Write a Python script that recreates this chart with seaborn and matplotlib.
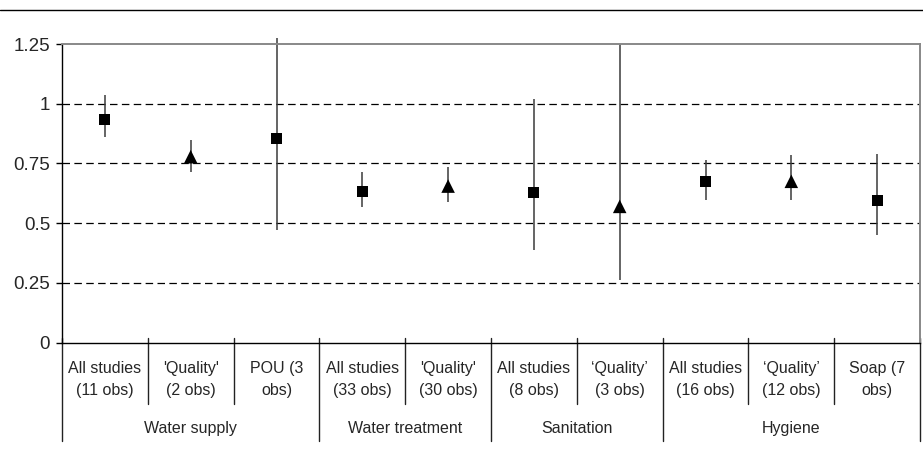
import matplotlib
matplotlib.use("Agg")
import matplotlib.pyplot as plt
import matplotlib.transforms as mtransforms
from matplotlib.lines import Line2D
import numpy as np
import pandas as pd
import seaborn as sns

# Intervention groups and the sub-analyses shown under each
groups = ["Water supply", "Water treatment", "Sanitation", "Hygiene"]
group_sizes = [3, 2, 2, 3]
categories = [
    "All studies\n(11 obs)", "'Quality'\n(2 obs)", "POU (3\nobs)",
    "All studies\n(33 obs)", "'Quality'\n(30 obs)",
    "All studies\n(8 obs)", "\u2018Quality\u2019\n(3 obs)",
    "All studies\n(16 obs)", "\u2018Quality\u2019\n(12 obs)", "Soap (7\nobs)",
]
# Pooled relative risk estimates with confidence limits
estimates = [0.935, 0.778, 0.856, 0.634, 0.655, 0.627, 0.570, 0.673, 0.675, 0.595]
ci_lower = [0.859, 0.715, 0.471, 0.569, 0.590, 0.387, 0.262, 0.597, 0.597, 0.450]
ci_upper = [1.038, 0.848, 1.276, 0.715, 0.736, 1.018, 1.250, 0.764, 0.784, 0.789]
marker_kind = ["All", "Quality", "All", "All", "Quality",
               "All", "Quality", "All", "Quality", "All"]
y_ticks = [0, 0.25, 0.5, 0.75, 1, 1.25]
y_tick_labels = ["0", "0.25", "0.5", "0.75", "1", "1.25"]

df = pd.DataFrame({
    "pos": np.arange(len(categories)),
    "estimate": estimates,
    "lower": ci_lower,
    "upper": ci_upper,
    "kind": marker_kind,
})

sns.set_style("white")
plt.rcParams["font.family"] = ["Liberation Sans", "DejaVu Sans"]

fig = plt.figure(figsize=(9.23, 4.54), dpi=100)
ax = fig.add_axes([62 / 923, (454 - 342.5) / 454, (920 - 62) / 923, 298.5 / 454])

# dashed reference lines
for yv in y_ticks[1:-1]:
    ax.axhline(yv, color="black", lw=0.9, dashes=(6.0, 3.5), zorder=1)

# confidence intervals
ax.vlines(df["pos"], df["lower"], df["upper"], colors="#3a3a3a",
          linewidth=1.1, clip_on=False, zorder=2)

sns.scatterplot(data=df, x="pos", y="estimate", style="kind", size="kind",
                markers={"All": "s", "Quality": "^"},
                sizes={"All": 64, "Quality": 95},
                color="black", linewidth=0, legend=False, ax=ax, zorder=3,
                clip_on=False)

ax.set_xlim(-0.5, len(categories) - 0.5)
ax.set_ylim(0, 1.25)
ax.set_xlabel("")
ax.set_ylabel("")
ax.set_xticks([])
ax.set_yticks(y_ticks)
ax.set_yticklabels(y_tick_labels, fontsize=13.5)
ax.tick_params(axis="y", direction="out", length=4, width=1, color="black",
               pad=4.5, left=True)

for side in ["left", "bottom"]:
    ax.spines[side].set_color("black")
    ax.spines[side].set_linewidth(1.0)
for side in ["top", "right"]:
    ax.spines[side].set_color("#888888")
    ax.spines[side].set_linewidth(1.4)

# category axis: labels and separators below the plot
trans = mtransforms.blended_transform_factory(ax.transData, ax.transAxes)
for i, lab in enumerate(categories):
    ax.text(i, -0.123, lab, transform=trans, ha="center", va="center",
            fontsize=11.5, linespacing=1.6)

bounds = np.cumsum([0] + group_sizes) - 0.5
starts = np.cumsum([0] + group_sizes[:-1])
for g, s, n in zip(groups, starts, group_sizes):
    ax.text(s + (n - 1) / 2, -0.288, g, transform=trans, ha="center",
            va="center", fontsize=11.5)

for b in range(len(categories) + 1):
    xb = b - 0.5
    bottom = -0.33 if xb in bounds else -0.205
    ax.add_line(Line2D([xb, xb], [0.015, bottom], transform=trans,
                       color="#222222", lw=1.0, clip_on=False))

# rule across the top of the figure
fig.add_artist(Line2D([0, 1], [1 - 10 / 454, 1 - 10 / 454],
                      transform=fig.transFigure, color="black", lw=1.0))

fig.savefig("out.png", dpi=100, facecolor="white")
